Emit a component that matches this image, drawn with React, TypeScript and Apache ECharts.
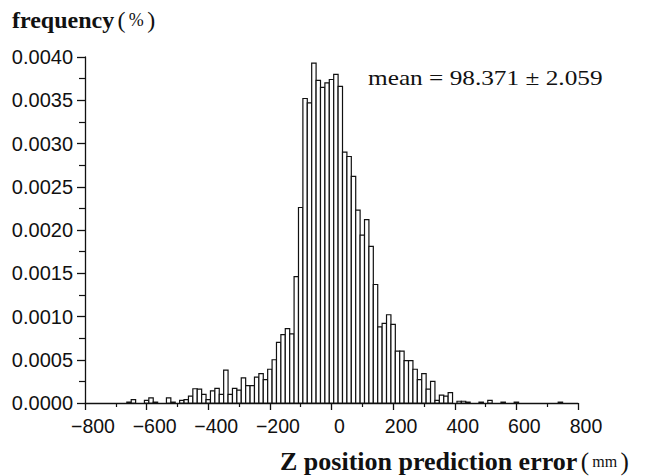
import React, { useEffect, useRef } from 'react';
import * as echarts from 'echarts';

// Axis ticks
const xTicks = [-800, -600, -400, -200, 0, 200, 400, 600, 800];
const yTicks = [0, 0.0005, 0.001, 0.0015, 0.002, 0.0025, 0.003, 0.0035, 0.004];

// Histogram bins: width in mm, index of first bin (bin centre = index * width)
const binWidth = 100 / 7;
const firstBinIndex = -47;

// Frequency per bin (bins -47 .. 53)
const frequency = [
  0, 0.00001, 0.00004, 0, 0, 0.00003, 0.00006, 0.00001, 0, 0,
  0.00006, 0.00001, 0, 0.00003, 0.00004, 0.00008, 0.000165, 0.00016, 0.0001, 0.00004,
  0.00014, 0.00017, 0.0001, 0.00038, 0.0001, 0.00017, 0.00015, 0.00029, 0.0002, 0.0002,
  0.0003, 0.00034, 0.00027, 0.00039, 0.0005, 0.0007, 0.00079, 0.00086, 0.0008, 0.00146,
  0.00226, 0.00352, 0.00347, 0.00393, 0.00373, 0.00365, 0.0037, 0.00374, 0.0038, 0.00366,
  0.0029, 0.00285, 0.00262, 0.00223, 0.00194, 0.00212, 0.00181, 0.00137, 0.00088, 0.00092,
  0.00102, 0.00091, 0.0006, 0.0006, 0.00049, 0.00049, 0.00039, 0.00027, 0.00034, 0.00016,
  0.00025, 0.00003, 0.00009, 0.00008, 0.00012, 0, 0.00002, 0.00002, 0.00001, 0,
  0, 0.00001, 0, 0.00003, 0, 0, 0.00001, 0, 0, 0.00001,
  0, 0, 0, 0, 0, 0, 0, 0, 0, 0.00001,
  0,
];

const titleText = 'frequency';
const xNameText = 'Z position prediction error';
const meanText = 'mean = 98.371 ± 2.059';

export default function App() {
  const ref = useRef<HTMLDivElement>(null);
  useEffect(() => {
    const chart = echarts.init(ref.current as HTMLDivElement, null, { renderer: 'svg' });
    const data = frequency
      .map((f, i) => {
        const c = (firstBinIndex + i) * binWidth;
        return [c - binWidth / 2, c + binWidth / 2, f];
      })
      .filter((d) => d[2] > 0);

    const axisColor = '#111';
    chart.setOption({
      animation: false,
      backgroundColor: '#fff',
      grid: { left: 85, right: 76, top: 57, bottom: 73 },
      xAxis: {
        type: 'value',
        min: xTicks[0],
        max: xTicks[xTicks.length - 1],
        interval: xTicks[1] - xTicks[0],
        axisLine: { onZero: false, lineStyle: { color: axisColor, width: 1.3 } },
        axisTick: { show: true, length: 7, lineStyle: { color: axisColor, width: 1.3 } },
        minorTick: { show: true, splitNumber: 2, length: 4, lineStyle: { color: axisColor, width: 1.2 } },
        splitLine: { show: false },
        axisLabel: {
          fontFamily: 'Liberation Sans',
          fontSize: 19.5,
          color: '#111',
          margin: 13,
          padding: [0, 0, 0, 16],
          formatter: (v: number) => (v < 0 ? '\u2212' + Math.abs(v) : String(v)),
        },
      },
      yAxis: {
        type: 'value',
        min: yTicks[0],
        max: yTicks[yTicks.length - 1],
        interval: yTicks[1] - yTicks[0],
        axisLine: { show: true, onZero: false, lineStyle: { color: axisColor, width: 1.3 } },
        axisTick: { show: true, length: 8, lineStyle: { color: axisColor, width: 1.3 } },
        minorTick: { show: true, splitNumber: 2, length: 6, lineStyle: { color: axisColor, width: 1.2 } },
        splitLine: { show: false },
        axisLabel: {
          fontFamily: 'Liberation Sans',
          fontSize: 20,
          color: '#111',
          margin: 12,
          formatter: (v: number) => v.toFixed(4),
        },
      },
      series: [
        {
          type: 'custom',
          data,
          encode: { x: [0, 1], y: 2 },
          renderItem: (params: any, api: any) => {
            const p0 = api.coord([api.value(0), api.value(2)]);
            const p1 = api.coord([api.value(1), 0]);
            return {
              type: 'rect',
              shape: { x: p0[0], y: p0[1], width: p1[0] - p0[0], height: p1[1] - p0[1] },
              style: { fill: '#fff', stroke: '#111', lineWidth: 1.2 },
            };
          },
        },
      ],
      graphic: [
        {
          type: 'text',
          x: 12,
          y: 20,
          style: {
            text: `{b|${titleText}} {p|(} {n|%} {p|)}`,
            verticalAlign: 'middle',
            align: 'left',
            fill: '#111',
            rich: {
              b: { fontFamily: 'Liberation Serif', fontWeight: 'bold', fontSize: 24, fill: '#111' },
              p: { fontFamily: 'Liberation Serif', fontSize: 24, fill: '#111' },
              n: { fontFamily: 'Liberation Serif', fontSize: 18, fill: '#111' },
            },
          },
        },
        {
          type: 'text',
          x: 280,
          y: 461,
          style: {
            text: `{b|${xNameText}} {p|(} {n|mm} {p|)}`,
            verticalAlign: 'middle',
            align: 'left',
            fill: '#111',
            rich: {
              b: { fontFamily: 'Liberation Serif', fontWeight: 'bold', fontSize: 26, fill: '#111' },
              p: { fontFamily: 'Liberation Serif', fontSize: 25, fill: '#111' },
              n: { fontFamily: 'Liberation Serif', fontSize: 16, fill: '#111' },
            },
          },
        },
        {
          type: 'text',
          x: 368,
          y: 78,
          scaleX: 1.15,
          style: {
            text: meanText,
            verticalAlign: 'middle',
            align: 'left',
            fontFamily: 'Liberation Serif',
            fontSize: 22,
            fill: '#111',
          },
        },
      ],
    });
    return () => chart.dispose();
  }, []);
  return (
    <div
      ref={ref}
      style={{ position: 'fixed', left: 0, top: 0, width: 654, height: 476, background: '#fff' }}
    />
  );
}
